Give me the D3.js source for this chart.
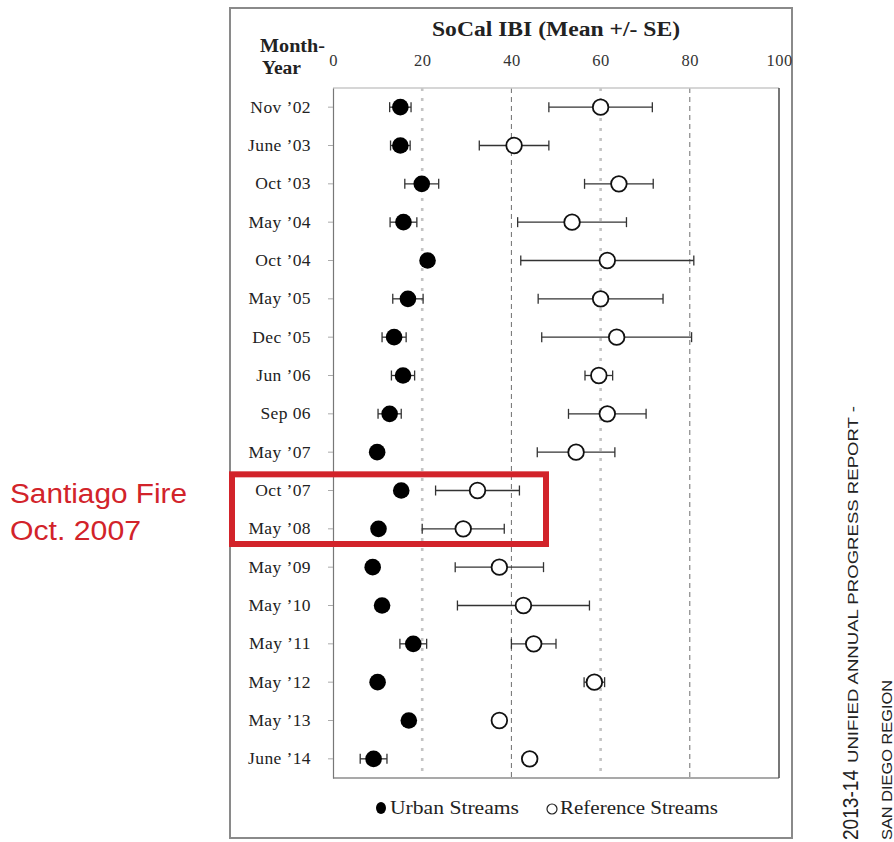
<!DOCTYPE html>
<html>
<head>
<meta charset="utf-8">
<script src="https://cdn.jsdelivr.net/npm/d3@7"></script>
<style>
  body { margin: 0; background: #fff; }
  svg { display: block; }
</style>
</head>
<body>
<div id="chart"></div>
<script>
// sampling dates (rows, top to bottom)
var months = ["Nov \u201902", "June \u201903", "Oct \u201903", "May \u201904", "Oct \u201904",
    "May \u201905", "Dec \u201905", "Jun \u201906", "Sep 06", "May \u201907", "Oct \u201907",
    "May \u201908", "May \u201909", "May \u201910", "May \u201911", "May \u201912",
    "May \u201913", "June \u201914"];

// urban streams, mean and SE
var urbanMean = [15.1, 15.1, 19.9, 15.8, 21.2, 16.8, 13.7, 15.7, 12.7, 9.9, 15.3, 10.2, 8.9, 11.0, 18.0, 10.0, 17.0, 9.1];
var urbanSE   = [2.4, 2.2, 3.8, 3.0, 1.0, 3.4, 2.7, 2.6, 2.6, 1.0, 1.0, 1.0, 1.0, 1.0, 3.0, 1.0, 1.0, 3.0];

// reference streams, mean and SE
var refMean = [60.0, 40.6, 64.1, 53.6, 61.5, 60.0, 63.6, 59.6, 61.5, 54.5, 32.4, 29.2, 37.3, 42.7, 45.0, 58.6, 37.3, 44.1];
var refSE   = [11.6, 7.8, 7.7, 12.2, 19.4, 14.0, 16.8, 3.1, 8.7, 8.7, 9.4, 9.2, 9.9, 14.8, 5.0, 2.3, 1.0, 1.0];

var xTicks = [0, 20, 40, 60, 80, 100];
var gridValues = [20, 40, 60, 80];
var fireRows = ["Oct \u201907", "May \u201908"];

var w = 894, h = 842;
var serif = "'Liberation Serif', 'DejaVu Serif', serif";
var sans = "'Liberation Sans', Arial, sans-serif";

var svg = d3.select("#chart").append("svg")
    .attr("width", w)
    .attr("height", h);

// outer frame of the figure
svg.append("rect")
    .attr("x", 230).attr("y", 8)
    .attr("width", 562).attr("height", 830)
    .attr("fill", "#fff")
    .attr("stroke", "#8a8a8a")
    .attr("stroke-width", 2);

var x = d3.scaleLinear().domain([0, 100]).range([333, 779]);
var y = d3.scaleBand().domain(months).range([88, 778]);
var yc = function (m) { return y(m) + y.bandwidth() / 2; };

// grid lines: 20 and 60 light dotted, 40 and 80 thin dashed
svg.selectAll("line.grid")
    .data(gridValues)
    .enter()
    .append("line")
    .attr("class", "grid")
    .attr("x1", function (d) { return x(d); })
    .attr("x2", function (d) { return x(d); })
    .attr("y1", y.range()[0])
    .attr("y2", y.range()[1])
    .attr("stroke", function (d) { return d % 40 === 0 ? "#6e6e6e" : "#c4c4c4"; })
    .attr("stroke-width", function (d) { return d % 40 === 0 ? 1 : 2.6; })
    .attr("stroke-dasharray", function (d) { return d % 40 === 0 ? "5,4" : "3,7"; });

// plot frame
svg.append("line").attr("x1", x(0)).attr("x2", x(100)).attr("y1", 88).attr("y2", 88)
    .attr("stroke", "#c8c8c8").attr("stroke-width", 1.5);
svg.append("line").attr("x1", x(0)).attr("x2", x(100)).attr("y1", 778).attr("y2", 778)
    .attr("stroke", "#8c8c8c").attr("stroke-width", 1.5);
svg.append("line").attr("x1", x(100)).attr("x2", x(100)).attr("y1", 88).attr("y2", 778)
    .attr("stroke", "#555").attr("stroke-width", 1.6);

// top axis (labels only)
var xAxis = svg.append("g")
    .attr("transform", "translate(0,72)")
    .call(d3.axisTop(x).tickValues(xTicks).tickSize(0).tickPadding(6));
xAxis.select(".domain").remove();
xAxis.selectAll("text")
    .attr("font-family", serif)
    .attr("font-size", "16.5px")
    .attr("letter-spacing", "0.5px")
    .attr("fill", "#333");

// left axis with row labels
var yAxis = svg.append("g")
    .attr("transform", "translate(" + x(0) + ",0)")
    .call(d3.axisLeft(y).tickSize(5).tickSizeOuter(0).tickPadding(17));
yAxis.select(".domain").attr("stroke", "#777").attr("stroke-width", 1.2);
yAxis.selectAll(".tick line").attr("stroke", "#aaa");
yAxis.selectAll("text")
    .attr("font-family", serif)
    .attr("font-size", "17.5px")
    .attr("letter-spacing", "0.4px")
    .attr("fill", "#222");

// titles
svg.append("text")
    .attr("x", 432).attr("y", 36)
    .attr("textLength", 248)
    .attr("lengthAdjust", "spacingAndGlyphs")
    .attr("font-family", serif)
    .attr("font-weight", "bold")
    .attr("font-size", "20.5px")
    .attr("fill", "#222")
    .text("SoCal IBI (Mean +/- SE)");
svg.append("text")
    .attr("x", 260).attr("y", 52)
    .attr("textLength", 65)
    .attr("lengthAdjust", "spacingAndGlyphs")
    .attr("font-family", serif).attr("font-weight", "bold")
    .attr("font-size", "18px").attr("fill", "#222")
    .text("Month-");
svg.append("text")
    .attr("x", 262).attr("y", 74)
    .attr("textLength", 39)
    .attr("lengthAdjust", "spacingAndGlyphs")
    .attr("font-family", serif).attr("font-weight", "bold")
    .attr("font-size", "18px").attr("fill", "#222")
    .text("Year");

// error bars
function errorBars(mean, se, cls) {
    var g = svg.append("g").attr("class", cls);
    months.forEach(function (m, i) {
        var lo = x(mean[i] - se[i]), hi = x(mean[i] + se[i]), cy = yc(m);
        g.append("line").attr("x1", lo).attr("x2", hi).attr("y1", cy).attr("y2", cy)
            .attr("stroke", "#333").attr("stroke-width", 1.3);
        [lo, hi].forEach(function (cx) {
            g.append("line").attr("x1", cx).attr("x2", cx).attr("y1", cy - 5).attr("y2", cy + 5)
                .attr("stroke", "#333").attr("stroke-width", 1.3);
        });
    });
}
errorBars(urbanMean, urbanSE, "urban-err");
errorBars(refMean, refSE, "ref-err");

// points
svg.selectAll("circle.urban")
    .data(urbanMean)
    .enter()
    .append("circle")
    .attr("class", "urban")
    .attr("cx", function (d) { return x(d); })
    .attr("cy", function (d, i) { return yc(months[i]); })
    .attr("r", 8.3)
    .attr("fill", "#000");

svg.selectAll("circle.ref")
    .data(refMean)
    .enter()
    .append("circle")
    .attr("class", "ref")
    .attr("cx", function (d) { return x(d); })
    .attr("cy", function (d, i) { return yc(months[i]); })
    .attr("r", 7.8)
    .attr("fill", "#fff")
    .attr("stroke", "#111")
    .attr("stroke-width", 1.8);

// legend
var legend = svg.append("g").attr("transform", "translate(0,808)");
legend.append("ellipse").attr("cx", 381).attr("cy", 0).attr("rx", 5).attr("ry", 6).attr("fill", "#000");
legend.append("text").attr("x", 390).attr("y", 6)
    .attr("textLength", 129).attr("lengthAdjust", "spacingAndGlyphs")
    .attr("font-family", serif).attr("font-size", "18px").attr("fill", "#222")
    .text("Urban Streams");
legend.append("ellipse").attr("cx", 552).attr("cy", 1).attr("rx", 5).attr("ry", 5)
    .attr("fill", "#fff").attr("stroke", "#222").attr("stroke-width", 1.2);
legend.append("text").attr("x", 560).attr("y", 6)
    .attr("textLength", 158).attr("lengthAdjust", "spacingAndGlyphs")
    .attr("font-family", serif).attr("font-size", "18px").attr("fill", "#222")
    .text("Reference Streams");

// Santiago fire highlight
var fireTop = y(fireRows[0]);
var fireBottom = y(fireRows[1]) + y.bandwidth();
svg.append("rect")
    .attr("x", 232).attr("y", fireTop + 3)
    .attr("width", 314).attr("height", fireBottom - fireTop - 7)
    .attr("fill", "none")
    .attr("stroke", "#d2232a")
    .attr("stroke-width", 6);
svg.append("text").attr("x", 10).attr("y", 503)
    .attr("textLength", 177).attr("lengthAdjust", "spacingAndGlyphs")
    .attr("font-family", sans).attr("font-size", "27px").attr("fill", "#d2232a")
    .text("Santiago Fire");
svg.append("text").attr("x", 10).attr("y", 540)
    .attr("textLength", 131).attr("lengthAdjust", "spacingAndGlyphs")
    .attr("font-family", sans).attr("font-size", "27px").attr("fill", "#d2232a")
    .text("Oct. 2007");

// vertical report caption at right edge
svg.append("text")
    .attr("transform", "translate(858,840) rotate(-90)")
    .attr("textLength", 70).attr("lengthAdjust", "spacingAndGlyphs")
    .attr("font-family", sans).attr("font-size", "22px").attr("fill", "#222")
    .text("2013-14");
svg.append("text")
    .attr("transform", "translate(858,763) rotate(-90)")
    .attr("textLength", 357).attr("lengthAdjust", "spacingAndGlyphs")
    .attr("font-family", sans).attr("font-size", "14.5px").attr("fill", "#222")
    .text("UNIFIED ANNUAL PROGRESS REPORT -");
svg.append("text")
    .attr("transform", "translate(892,840) rotate(-90)")
    .attr("textLength", 160).attr("lengthAdjust", "spacingAndGlyphs")
    .attr("font-family", sans).attr("font-size", "14px").attr("fill", "#222")
    .text("SAN DIEGO REGION");
</script>
</body>
</html>
